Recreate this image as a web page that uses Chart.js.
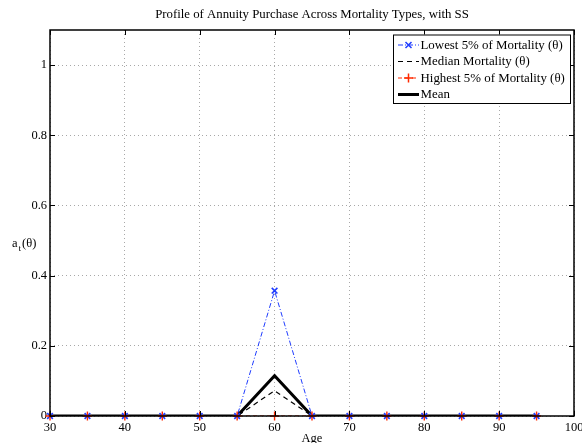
<!DOCTYPE html>
<html>
<head>
<meta charset="utf-8">
<script src="https://cdn.jsdelivr.net/npm/chart.js@4"></script>
<style>
  html, body { margin: 0; padding: 0; background: #fff; }
  #wrap { width: 582px; height: 443px; }
</style>
</head>
<body>
<div id="wrap"><canvas id="c" width="582" height="443"></canvas></div>
<script>
// Age grid and annuity purchase shares by mortality type
const ages = [30, 35, 40, 45, 50, 55, 60, 65, 70, 75, 80, 85, 90, 95];
const lowestMort  = [0, 0, 0, 0, 0, 0, 0.357, 0, 0, 0, 0, 0, 0, 0];
const medianMort  = [0, 0, 0, 0, 0, 0, 0.072, 0, 0, 0, 0, 0, 0, 0];
const highestMort = [0, 0, 0, 0, 0, 0, 0, 0, 0, 0, 0, 0, 0, 0];
const meanMort    = [0, 0, 0, 0, 0, 0, 0.115, 0, 0, 0, 0, 0, 0, 0];

const xTicks = [30, 40, 50, 60, 70, 80, 90, 100];
const yTicks = [0, 0.2, 0.4, 0.6, 0.8, 1];
const seriesNames = ['Lowest 5% of Mortality (\u03b8)', 'Median Mortality (\u03b8)', 'Highest 5% of Mortality (\u03b8)', 'Mean'];
const titleText = 'Profile of Annuity Purchase Across Mortality Types, with SS';
const xTitle = 'Age';

const FONT = '"Liberation Serif", "Times New Roman", serif';
const BLUE = '#1f3cff';
const RED = '#ff2a00';

const pts = arr => ages.map((a, i) => ({ x: a, y: arr[i] }));

const styles = [
  { color: BLUE, dash: [5, 2, 1, 2], width: 1, marker: 'crossRot', r: 4 },
  { color: '#000', dash: [5, 4], width: 1.2, marker: false, r: 0 },
  { color: RED, dash: [4, 3], width: 1.2, marker: 'cross', r: 4.5 },
  { color: '#000', dash: [], width: 3, marker: false, r: 0 }
];

const datasets = [
  { data: pts(lowestMort), borderColor: BLUE, borderWidth: 1, borderDash: styles[0].dash, pointRadius: 0, order: 5 },
  { data: pts(medianMort), borderColor: '#000', borderWidth: 1.2, borderDash: styles[1].dash, pointRadius: 0, order: 4 },
  { data: pts(highestMort), borderColor: RED, borderWidth: 1.2, borderDash: styles[2].dash, pointRadius: 0, order: 3 },
  { data: pts(meanMort), borderColor: '#000', borderWidth: 3, pointRadius: 0, order: 2 },
  // marker layers sit above the lines
  { data: pts(lowestMort), showLine: false, clip: false, pointStyle: 'crossRot', pointRadius: 4, pointBorderColor: BLUE, pointBorderWidth: 1.6, order: 1 },
  { data: pts(highestMort), showLine: false, clip: false, pointStyle: 'cross', pointRadius: 4.5, pointBorderColor: RED, pointBorderWidth: 1.4, order: 0 }
];

function drawMarker(ctx, style, x, y, r, color) {
  ctx.save();
  ctx.strokeStyle = color;
  ctx.lineWidth = 1.5;
  ctx.setLineDash([]);
  ctx.beginPath();
  if (style === 'cross') {
    ctx.moveTo(x - r, y); ctx.lineTo(x + r, y);
    ctx.moveTo(x, y - r); ctx.lineTo(x, y + r);
  } else if (style === 'crossRot') {
    const d = r * 0.75;
    ctx.moveTo(x - d, y - d); ctx.lineTo(x + d, y + d);
    ctx.moveTo(x - d, y + d); ctx.lineTo(x + d, y - d);
  }
  ctx.stroke();
  ctx.restore();
}

const framePlugin = {
  id: 'frame',
  afterDraw(chart) {
    const ctx = chart.ctx;
    const a = chart.chartArea;
    const xs = chart.scales.x, ys = chart.scales.y;
    ctx.save();

    // axes box
    ctx.strokeStyle = '#000';
    ctx.lineWidth = 1.5;
    ctx.setLineDash([]);
    ctx.strokeRect(a.left, a.top, a.right - a.left, a.bottom - a.top);

    // inward tick marks on all four sides
    ctx.lineWidth = 1;
    ctx.beginPath();
    const tl = 5;
    xTicks.forEach(v => {
      const px = Math.round(xs.getPixelForValue(v)) + 0.5;
      ctx.moveTo(px, a.bottom); ctx.lineTo(px, a.bottom - tl);
      ctx.moveTo(px, a.top); ctx.lineTo(px, a.top + tl);
    });
    yTicks.forEach(v => {
      const py = Math.round(ys.getPixelForValue(v)) + 0.5;
      ctx.moveTo(a.left, py); ctx.lineTo(a.left + tl, py);
      ctx.moveTo(a.right, py); ctx.lineTo(a.right - tl, py);
    });
    ctx.stroke();

    // title
    ctx.fillStyle = '#000';
    ctx.font = '12.8px ' + FONT;
    ctx.textAlign = 'center';
    ctx.textBaseline = 'middle';
    ctx.fillText(titleText, (a.left + a.right) / 2, 15);

    // x axis title
    ctx.font = '12.5px ' + FONT;
    ctx.textBaseline = 'top';
    ctx.fillText(xTitle, (a.left + a.right) / 2, 432);

    // y axis label a_t(θ)
    ctx.textAlign = 'left';
    ctx.textBaseline = 'alphabetic';
    ctx.font = '12.5px ' + FONT;
    ctx.fillText('a', 12, 247);
    ctx.font = '9px ' + FONT;
    ctx.fillText('t', 18.5, 251);
    ctx.font = '12.5px ' + FONT;
    ctx.fillText('(\u03b8)', 22, 247);

    // legend
    const lx = 393, ly = 34.5, lw = 177, lh = 68.5;
    ctx.fillStyle = '#fff';
    ctx.fillRect(lx, ly, lw, lh);
    ctx.strokeStyle = '#000';
    ctx.lineWidth = 1;
    ctx.strokeRect(lx + 0.5, ly + 0.5, lw, lh);
    const rows = [45, 61.5, 78, 94.5];
    seriesNames.forEach((name, i) => {
      const s = styles[i];
      const y = rows[i];
      ctx.save();
      ctx.strokeStyle = s.color;
      ctx.lineWidth = s.width;
      ctx.setLineDash(s.dash);
      ctx.beginPath();
      ctx.moveTo(398, y); ctx.lineTo(419, y);
      ctx.stroke();
      ctx.restore();
      if (s.marker) drawMarker(ctx, s.marker, 408.5, y, s.r, s.color);
      ctx.fillStyle = '#000';
      ctx.font = '12.9px ' + FONT;
      ctx.textAlign = 'left';
      ctx.textBaseline = 'middle';
      ctx.fillText(name, 420.5, y + 0.5);
    });
    ctx.restore();
  }
};

new Chart(document.getElementById('c'), {
  type: 'line',
  data: { datasets },
  plugins: [framePlugin],
  options: {
    responsive: false,
    animation: false,
    devicePixelRatio: 1,
    layout: { padding: { top: 30, right: 8, left: 0, bottom: 0 } },
    plugins: { legend: { display: false }, tooltip: { enabled: false }, title: { display: false } },
    elements: { line: { tension: 0, fill: false } },
    scales: {
      x: {
        type: 'linear',
        min: 30, max: 100,
        afterBuildTicks: s => { s.ticks = xTicks.map(v => ({ value: v })); },
        afterFit: s => { s.height = 27; s.paddingLeft = 0; s.paddingRight = 0; },
        grid: { color: '#a8a8a8', lineWidth: 1, drawTicks: false },
        border: { display: false, dash: [1, 3] },
        ticks: { color: '#000', font: { family: FONT, size: 12.5 }, padding: 4, maxRotation: 0, autoSkip: false,
                 callback: v => String(v) }
      },
      y: {
        type: 'linear',
        min: 0, max: 1.1,
        afterBuildTicks: s => { s.ticks = yTicks.map(v => ({ value: v })); },
        afterFit: s => { s.width = 50; s.paddingTop = 0; s.paddingBottom = 0; },
        grid: { color: '#a8a8a8', lineWidth: 1, drawTicks: false },
        border: { display: false, dash: [1, 3] },
        ticks: { color: '#000', font: { family: FONT, size: 12.5 }, padding: 3,
                 callback: v => String(Math.round(v * 10) / 10) }
      }
    }
  }
});
</script>
</body>
</html>
